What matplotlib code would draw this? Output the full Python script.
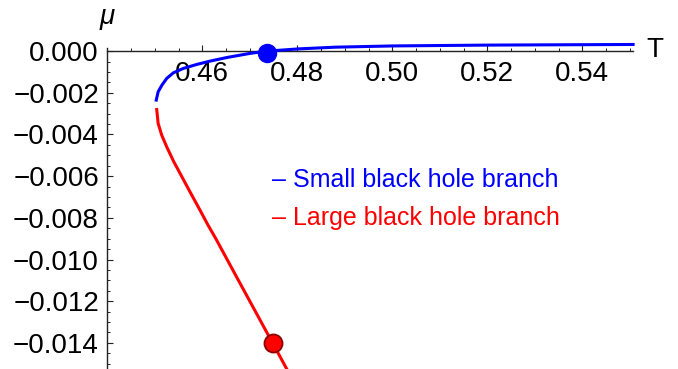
import matplotlib
matplotlib.use("Agg")
import matplotlib.pyplot as plt
from matplotlib.ticker import MultipleLocator, FuncFormatter

plt.rcParams['font.family'] = ['Liberation Sans', 'DejaVu Sans']

# small black hole branch (T, mu)
T_small = [0.4503, 0.4507, 0.4515, 0.4525, 0.4539, 0.4560, 0.4588, 0.4616,
           0.4653, 0.4700, 0.4736, 0.4804, 0.4880, 0.5002, 0.5200, 0.5507]
mu_small = [-0.00235, -0.00195, -0.00163, -0.00131, -0.00104, -0.00083, -0.00064,
            -0.00048, -0.00030, -0.00011, 0.0, 0.00011, 0.00019, 0.00025,
            0.00029, 0.00032]

# large black hole branch (T, mu)
T_large = [0.4504, 0.4507, 0.45145, 0.4525, 0.4540, 0.4557, 0.4574, 0.4593,
           0.4612, 0.4628, 0.4672, 0.4749, 0.4777]
mu_large = [-0.00280, -0.00347, -0.00403, -0.00459, -0.00531, -0.00603, -0.00675,
            -0.00754, -0.00835, -0.00898, -0.01083, -0.01405, -0.01522]

# marked points
dot_small = (0.4737, -0.0001)
dot_large = (0.4748, -0.0140)

fig = plt.figure(figsize=(6.78, 3.69), dpi=100)
ax = fig.add_axes([0.1583, 0.003, 0.7776, 0.881])

ax.plot(T_small, mu_small, color='#0000ff', lw=2.2, clip_on=False, zorder=3)
ax.plot(T_large, mu_large, color='#ff0000', lw=2.2, clip_on=False, zorder=3)
ax.plot(*dot_small, 'o', ms=13, color='#0000ff', mec='#0000ff', zorder=4, clip_on=False)
ax.plot(*dot_large, 'o', ms=13, color='#ff0000', mec='#8b0000', mew=1.3, zorder=4, clip_on=False)

ax.set_xlim(0.44, 0.551)
ax.set_ylim(-0.0152, 0.0004)

for s in ['top', 'right']:
    ax.spines[s].set_visible(False)
ax.spines['bottom'].set_position(('data', 0))
ax.spines['bottom'].set_bounds(0.44, 0.5507)
ax.spines['left'].set_bounds(-0.0152, 0.00017)
for s in ['bottom', 'left']:
    ax.spines[s].set_color('#222222')
    ax.spines[s].set_linewidth(1.0)

ax.xaxis.set_major_locator(MultipleLocator(0.02))
ax.xaxis.set_minor_locator(MultipleLocator(0.005))
ax.yaxis.set_major_locator(MultipleLocator(0.002))
ax.yaxis.set_minor_locator(MultipleLocator(0.0005))
ax.set_xticks([0.46, 0.48, 0.50, 0.52, 0.54])


def fmt_y(v, pos):
    s = '%.3f' % v
    if s == '-0.000':
        s = '0.000'
    return s.replace('-', '\u2212')


ax.xaxis.set_major_formatter(FuncFormatter(lambda v, p: '%.2f' % v))
ax.yaxis.set_major_formatter(FuncFormatter(fmt_y))

ax.tick_params(which='both', direction='in', color='#222222', labelsize=20)
ax.tick_params(which='major', length=4, width=0.8)
ax.tick_params(which='minor', length=2.2, width=0.7)
ax.tick_params(axis='x', pad=7)
ax.tick_params(axis='y', pad=6)

fig.text(655 / 678, 1 - 50 / 369, 'T', fontsize=20, ha='center', va='center')
fig.text(107 / 678, 1 - 17 / 369, 'μ', fontsize=20, fontstyle='italic',
         ha='center', va='center')

fig.text(272 / 678, 1 - 180 / 369, '– Small black hole branch', color='#0000ff',
         fontsize=18, ha='left', va='center')
fig.text(272 / 678, 1 - 218 / 369, '– Large black hole branch', color='#ff0000',
         fontsize=18, ha='left', va='center')

fig.savefig('out.png', dpi=100)
